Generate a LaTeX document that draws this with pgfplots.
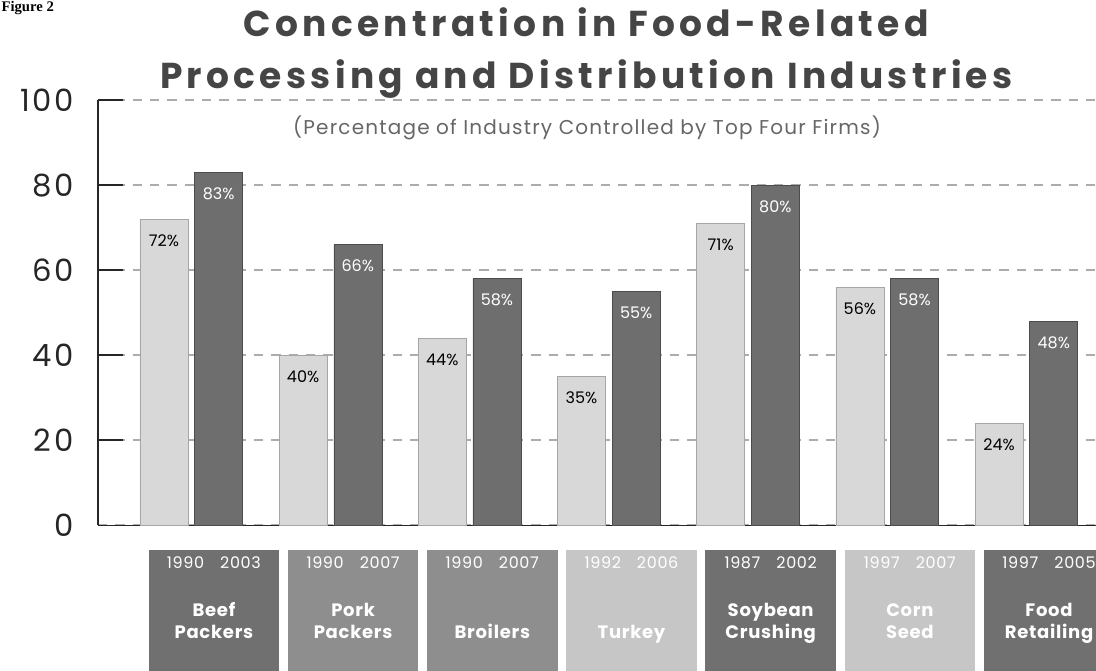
\documentclass[border=0pt]{standalone}
\usepackage{fontspec}
\setmainfont{Poppins}
\newfontfamily\timesfont{Liberation Serif}
\usepackage{pgfplots}
\pgfplotsset{compat=1.18}
\definecolor{lightbar}{HTML}{D8D8D8}
\definecolor{darkbar}{HTML}{6E6E6E}
\definecolor{boxdark}{HTML}{707070}
\definecolor{boxmed}{HTML}{8E8E8E}
\definecolor{boxlight}{HTML}{C6C6C6}
\definecolor{titlegray}{HTML}{454545}
\newcommand{\catbox}[4]{\colorbox{#1}{\parbox[c][92pt][t]{92pt}{\centering\color{white}\vspace*{2pt}\fontsize{12}{13}\selectfont\addfontfeatures{LetterSpace=4}#2\\[19pt]\fontsize{13.5}{17}\selectfont\bfseries\addfontfeatures{LetterSpace=4}#3\\#4}}}
\begin{document}
\begin{tikzpicture}
\begin{axis}[
  scale only axis, width=748.5pt, height=319pt,
  xmin=-0.67, xmax=6.5, ymin=0, ymax=100,
  clip=false,
  /pgf/number format/assume math mode=true,
  axis x line*=bottom, axis y line*=left,
  axis line style={-, line width=1.2pt, black!85},
  ytick={0,20,40,60,80,100},
  ymajorgrids,
  grid style={gray!65, line width=1.6pt, dash pattern=on 7pt off 6pt},
  tick align=inside, major tick length=19pt,
  ytick style={line width=1.2pt, black!85},
  yticklabel style={font=\fontsize{23}{24}\selectfont\addfontfeatures{LetterSpace=8}, text=black!85, xshift=-15pt},
  xtick={0,1,2,3,4,5,6},
  xtick style={draw=none},
  xticklabels={
    {\catbox{boxdark}{1990\quad 2003}{Beef}{Packers}},
    {\catbox{boxmed}{1990\quad 2007}{Pork}{Packers}},
    {\catbox{boxmed}{1990\quad 2007}{\strut}{Broilers}},
    {\catbox{boxlight}{1992\quad 2006}{\strut}{Turkey}},
    {\catbox{boxdark}{1987\quad 2002}{Soybean}{Crushing}},
    {\catbox{boxlight}{1997\quad 2007}{Corn}{Seed}},
    {\catbox{boxdark}{1997\quad 2005}{Food}{Retailing}}},
  xticklabel style={anchor=north, yshift=1pt, xshift=17pt, inner sep=0pt},
  ybar=5pt, bar width=36pt,
  nodes near coords={\pgfmathprintnumber{\pgfplotspointmeta}\%},
  every node near coord/.append style={anchor=north, yshift=-8pt, font=\fontsize{12}{13}\selectfont},
]
\addplot[fill=lightbar, draw=gray!70, nodes near coords style={text=black}]
  coordinates {(0,72) (1,40) (2,44) (3,35) (4,71) (5,56) (6,24)};
\addplot[fill=darkbar, draw=black!70, nodes near coords style={text=white}]
  coordinates {(0,83) (1,66) (2,58) (3,55) (4,80) (5,58) (6,48)};
\node[anchor=north, text=gray!80!black, font=\fontsize{15}{16}\selectfont\addfontfeatures{LetterSpace=6}] at (rel axis cs:0.49,0.975) {(Percentage of Industry Controlled by Top Four Firms)};
\end{axis}
\node[anchor=south, align=center, text=titlegray, font=\fontsize{27}{39}\selectfont\bfseries\addfontfeatures{LetterSpace=12}] at ([xshift=-8pt, yshift=-2pt]current axis.north) {Concentration in Food-Related\\Processing and Distribution Industries};
\pgfresetboundingbox
\path[use as bounding box] ([shift={(-73.5pt,-108.75pt)}]current axis.south west) rectangle ([shift={(0pt,75pt)}]current axis.north east);
\node[anchor=north west, inner sep=1pt, font=\timesfont\bfseries\fontsize{11}{12}\selectfont] at ([shift={(-73.5pt,75pt)}]current axis.north west) {Figure 2};
\end{tikzpicture}
\end{document}
